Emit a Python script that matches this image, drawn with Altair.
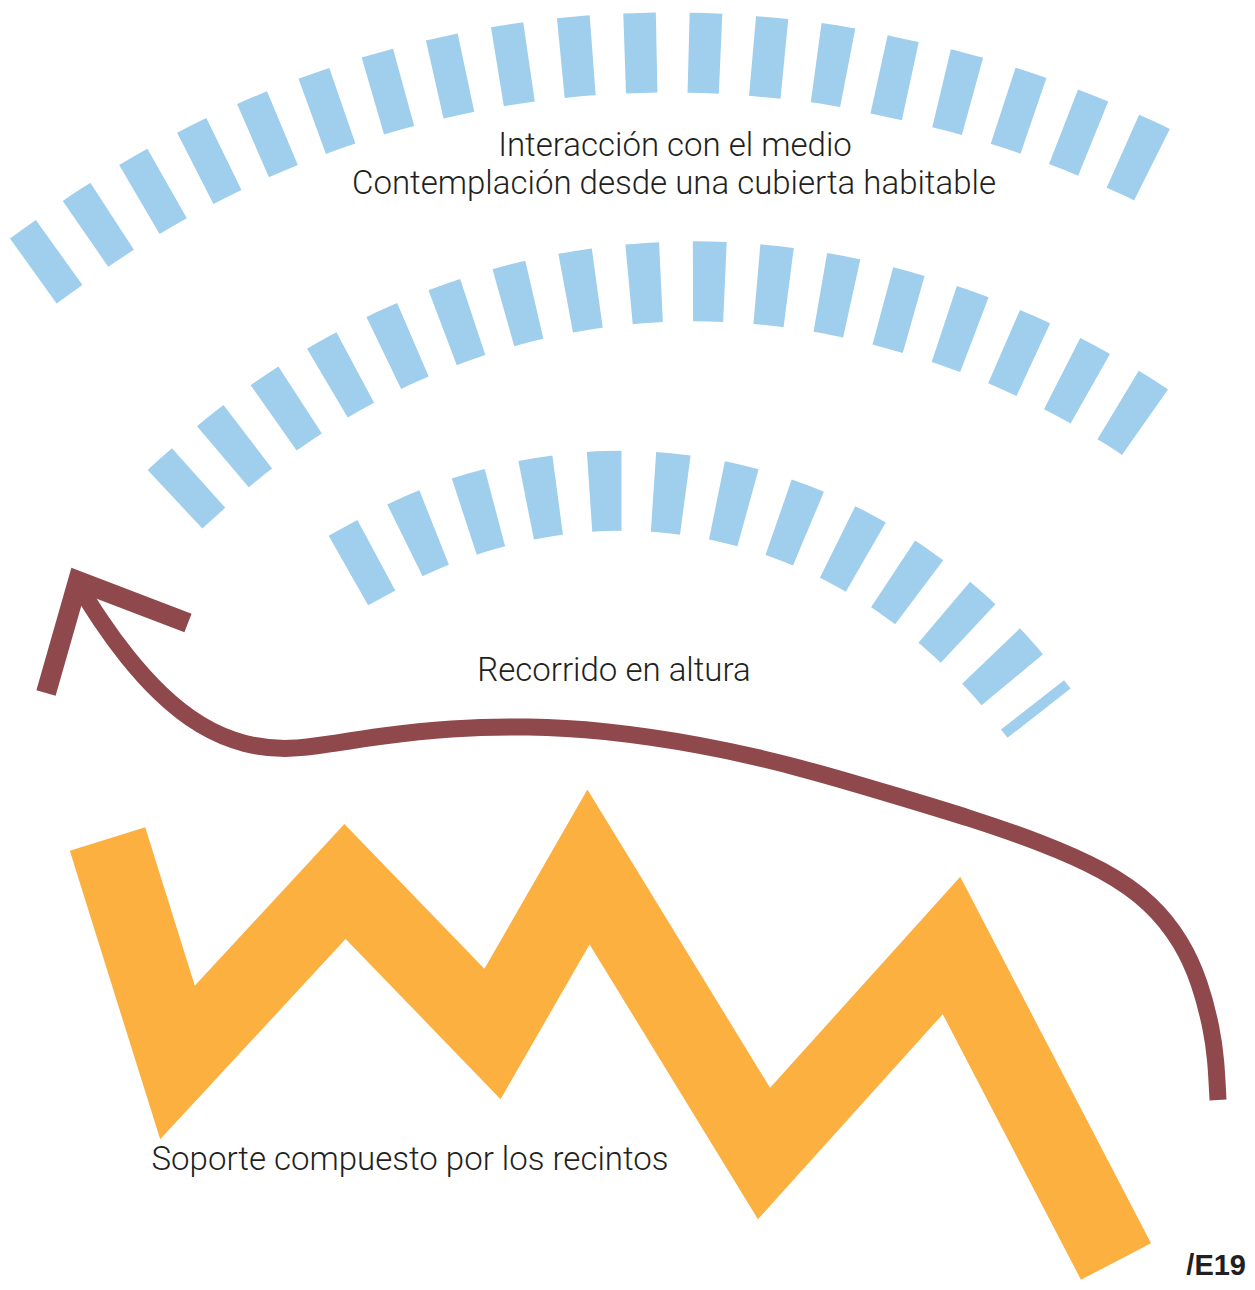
import altair as alt
import pandas as pd

# ---- data (pixel coordinates of the 1255x1290 picture) ----
# top dashed arc: start edge, dash centres, end edge
TOP_X = [33.3, 46.3, 98.6, 153.0, 209.6, 267.6, 327.0, 388.0, 450.6, 513.3, 577.0,
         640.8, 704.6, 768.8, 832.0, 894.5, 957.6, 1018.9, 1078.9, 1137.6, 1152.0]
TOP_Y = [271.0, 261.7, 225.0, 191.5, 161.0, 134.3, 111.0, 91.6, 76.0, 64.2, 56.5,
         52.9, 53.1, 57.4, 65.0, 77.8, 92.3, 110.8, 132.8, 157.8, 164.7]

# middle dashed arc
MID_X = [175.0, 186.8, 235.2, 286.8, 341.3, 398.3, 457.5, 518.8, 581.5, 645.0, 709.0,
         773.1, 836.1, 898.0, 959.5, 1018.8, 1076.3, 1131.7, 1145.0]
MID_Y = [499.3, 488.5, 446.6, 408.8, 375.1, 346.2, 322.3, 303.5, 290.4, 283.1, 281.5,
         285.7, 295.2, 310.0, 329.2, 353.0, 381.0, 413.3, 422.2]

# bottom dashed arc
BOT_X = [348.4, 362.4, 419.3, 479.4, 541.8, 605.6, 669.1, 732.4, 793.4, 851.6, 906.3,
         956.1, 1001.8, 1039.0]
BOT_Y = [570.5, 562.8, 533.7, 511.9, 497.5, 491.1, 493.2, 503.8, 522.7, 549.2, 582.9,
         622.5, 667.6, 713.2]

# maroon path (from its lower right end up to the arrow tip)
PATH_X = [1218, 1216, 1212, 1200, 1182, 1152, 1105, 1040, 970, 900, 800, 700, 600, 530,
          450, 380, 330, 290, 245, 200, 160, 125, 100, 80, 78]
PATH_Y = [1100, 1060, 1030, 982, 942, 903, 870, 842, 818, 797, 767, 744, 730, 726,
          728, 736, 744, 750, 746, 727, 695, 655, 620, 588, 583]

# arrow head
HEAD_X = [46, 78, 188]
HEAD_Y = [693, 581, 623]

# orange zig-zag support (centre line)
ZIG_X = [107.5, 177.5, 345.0, 492.5, 588.5, 764.0, 951.5, 1116.0]
ZIG_Y = [839.0, 1062.5, 881.5, 1034.0, 867.0, 1153.5, 945.5, 1261.5]

# labels
LABELS = ["Interacción con el medio",
          "Contemplación desde una cubierta habitable",
          "Recorrido en altura",
          "Soporte compuesto por los recintos"]
LABEL_X = [675, 674, 614, 410]
LABEL_Y = [146, 184, 671, 1160]

TAG = ["/E19"]
TAG_X = [1246]
TAG_Y = [1275]

BLUE = "#a0cfee"
ORANGE = "#fbb040"
MAROON = "#8f484b"
INK = "#231f20"

W, H = 1239, 1274


def frame(xs, ys):
    return pd.DataFrame({"x": xs, "y": ys, "i": list(range(len(xs)))})


X = alt.X("x:Q", scale=alt.Scale(domain=[8, 8 + W], nice=False, zero=False), axis=None)
Y = alt.Y("y:Q", scale=alt.Scale(domain=[8, 8 + H], nice=False, zero=False, reverse=True), axis=None)
O = alt.Order("i:Q")


def dashed_arc(xs, ys):
    return alt.Chart(frame(xs, ys)).mark_line(
        color=BLUE, strokeWidth=80, strokeDash=[32, 32], strokeCap="butt",
        interpolate="catmull-rom"
    ).encode(x=X, y=Y, order=O)


top = dashed_arc(TOP_X, TOP_Y)
mid = dashed_arc(MID_X, MID_Y)
bot = dashed_arc(BOT_X, BOT_Y)

zig = alt.Chart(frame(ZIG_X, ZIG_Y)).mark_line(
    color=ORANGE, strokeWidth=79, strokeJoin="miter", strokeMiterLimit=10, strokeCap="butt"
).encode(x=X, y=Y, order=O)

path = alt.Chart(frame(PATH_X, PATH_Y)).mark_line(
    color=MAROON, strokeWidth=17, strokeCap="butt", interpolate="basis"
).encode(x=X, y=Y, order=O)

head = alt.Chart(frame(HEAD_X, HEAD_Y)).mark_line(
    color=MAROON, strokeWidth=20, strokeJoin="miter", strokeMiterLimit=10, strokeCap="butt"
).encode(x=X, y=Y, order=O)

labels = alt.Chart(pd.DataFrame({"t": LABELS, "x": LABEL_X, "y": LABEL_Y})).mark_text(
    font="Roboto", fontWeight=300, fontSize=33, color=INK, align="center", baseline="middle"
).encode(x=X, y=Y, text="t:N")

tag = alt.Chart(pd.DataFrame({"t": TAG, "x": TAG_X, "y": TAG_Y})).mark_text(
    font="Liberation Sans", fontWeight="bold", fontSize=29, color=INK, align="right",
    baseline="alphabetic"
).encode(x=X, y=Y, text="t:N")

chart = alt.layer(top, mid, bot, zig, path, head, labels, tag).properties(
    width=W, height=H, padding=0, autosize="none", background="white"
).configure_view(stroke=None)

chart.save("out.html", embed_options={"renderer": "svg", "actions": False})
